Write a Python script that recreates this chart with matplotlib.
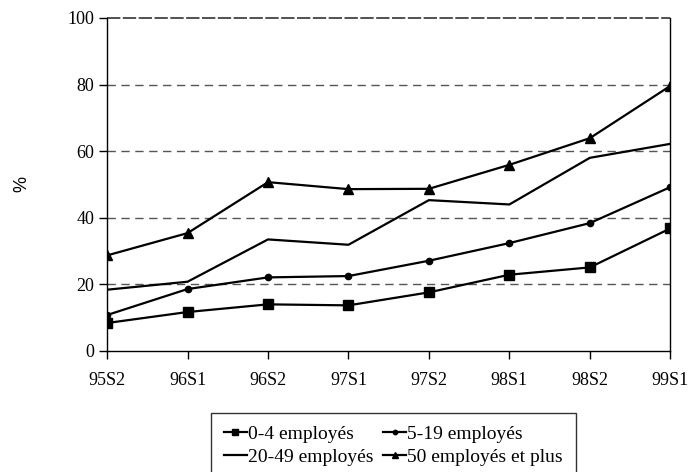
import numpy as np
import matplotlib
matplotlib.use("Agg")
import matplotlib.pyplot as plt

# ====================================
# Données
# ====================================

periodes = ["95S2", "96S1", "96S2", "97S1", "97S2", "98S1", "98S2", "99S1"]

emp_0_4 = [8.4, 11.7, 14.0, 13.7, 17.6, 22.9, 25.1, 36.8]
emp_5_19 = [10.8, 18.6, 22.1, 22.5, 27.1, 32.4, 38.4, 49.2]
emp_20_49 = [18.4, 20.8, 33.5, 31.9, 45.3, 44.0, 58.0, 62.2]
emp_50_plus = [28.7, 35.4, 50.7, 48.6, 48.7, 55.9, 63.9, 79.6]

noms = ["0-4 employés", "5-19 employés", "20-49 employés", "50 employés et plus"]

# ====================================
# Figure
# ====================================

plt.rcParams["font.family"] = ["Liberation Serif", "DejaVu Serif"]

fig = plt.figure(figsize=(6.91, 4.72), dpi=100)
ax = fig.add_axes([0.155, 0.2564, 0.815, 0.7055])

x = np.arange(len(periodes))

l1, = ax.plot(x, emp_0_4, color="black", lw=1.6, marker="s", ms=7)
l2, = ax.plot(x, emp_5_19, color="black", lw=1.6, marker="o", ms=4.5)
l3, = ax.plot(x, emp_20_49, color="black", lw=1.6)
l4, = ax.plot(x, emp_50_plus, color="black", lw=1.6, marker="^", ms=7)

ax.set_xlim(0, len(periodes) - 1)
ax.set_ylim(0, 100)
ax.set_yticks([0, 20, 40, 60, 80, 100])
ax.set_xticks(x)
ax.set_xticklabels(periodes)

for v in [20, 40, 60, 80]:
    ax.axhline(v, color="#555555", lw=1, ls=(0, (6, 4)), zorder=0)
ax.axhline(100, color="#333333", lw=1.2, ls=(0, (8, 1.5)), zorder=0, clip_on=False)

ax.spines["top"].set_visible(False)
for s in ["left", "right", "bottom"]:
    ax.spines[s].set_linewidth(1.0)
    ax.spines[s].set_color("black")

ax.tick_params(axis="both", direction="out", length=6, width=1, labelsize=13, colors="black")
ax.tick_params(axis="x", pad=9)
ax.tick_params(axis="y", pad=3)

ax.set_ylabel("%", fontsize=13, family=["Liberation Sans", "DejaVu Sans"], labelpad=27)

# ordre pour remplir ligne par ligne (matplotlib remplit par colonne)
leg = fig.legend(
    [l1, l3, l2, l4],
    [noms[0], noms[2], noms[1], noms[3]],
    loc="upper left",
    bbox_to_anchor=(211 / 691, 1 - 413 / 472),
    ncol=2,
    fontsize=14,
    frameon=True,
    fancybox=False,
    edgecolor="black",
    handlelength=1.2,
    handletextpad=0.05,
    columnspacing=0.5,
    labelspacing=0.25,
    borderpad=0.65,
    borderaxespad=0,
    markerscale=0.7,
)
leg.get_frame().set_linewidth(1.0)

fig.savefig("out.png", dpi=100)
